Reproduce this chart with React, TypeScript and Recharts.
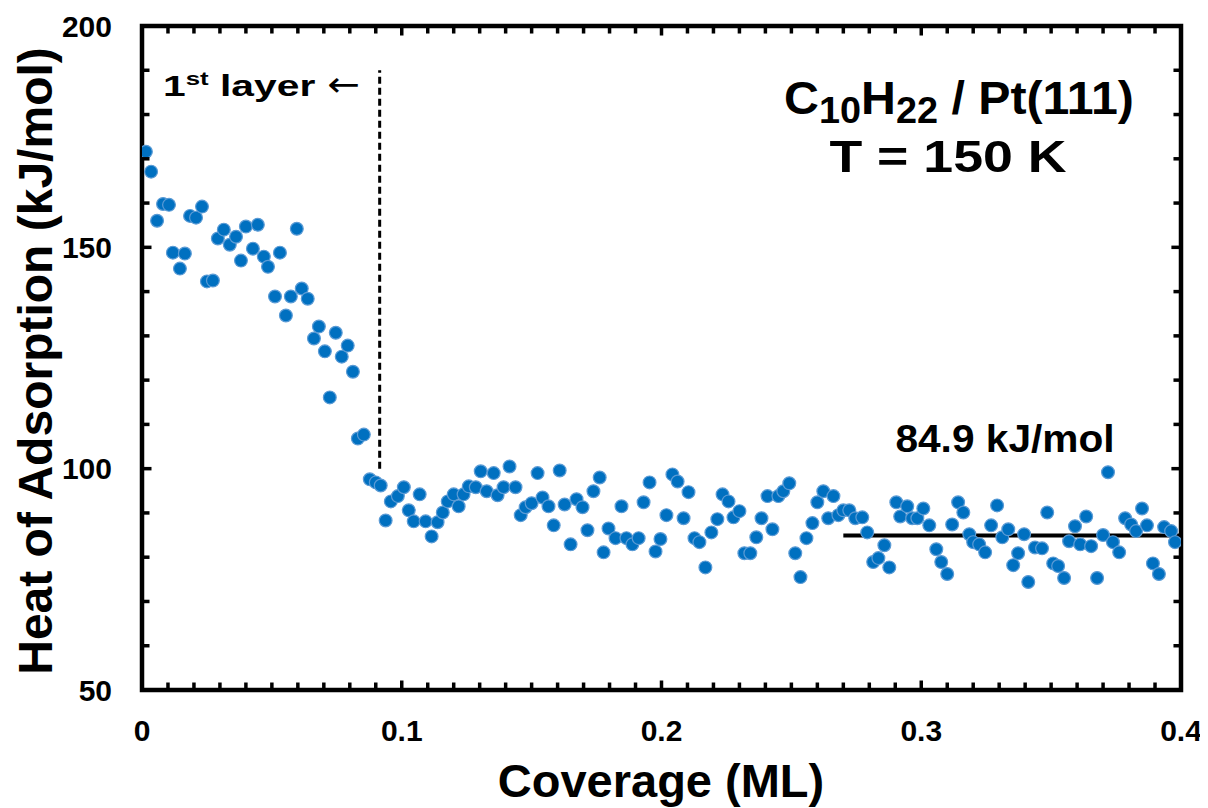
import React from "react";
import { ScatterChart, Scatter, XAxis, YAxis, ReferenceLine, ReferenceArea } from "recharts";

// ---- data ----
const coverage = [
  0.0015, 0.0035, 0.0058, 0.0081, 0.0104, 0.0119, 0.0146, 0.0165, 0.0185, 0.0208,
  0.0231, 0.025, 0.0273, 0.0292, 0.0315, 0.0338, 0.0362, 0.0381, 0.04, 0.0427,
  0.0446, 0.0469, 0.0485, 0.0512, 0.0531, 0.0554, 0.0573, 0.0596, 0.0615, 0.0638,
  0.0662, 0.0681, 0.0704, 0.0723, 0.0746, 0.0769, 0.0792, 0.0812, 0.0831, 0.0854,
  0.0877, 0.09, 0.0919, 0.0938, 0.0958, 0.0985, 0.1008, 0.1027, 0.1046, 0.1069,
  0.1092, 0.1115, 0.1138, 0.1158, 0.1177, 0.12, 0.1219, 0.1238, 0.1258, 0.1285,
  0.1304, 0.1327, 0.1354, 0.1369, 0.1392, 0.1415, 0.1438, 0.1458, 0.1477, 0.15,
  0.1523, 0.1542, 0.1565, 0.1585, 0.1608, 0.1627, 0.165, 0.1673, 0.1696, 0.1715,
  0.1738, 0.1762, 0.1777, 0.1796, 0.1823, 0.1846, 0.1865, 0.1888, 0.1912, 0.1931,
  0.1954, 0.1977, 0.1996, 0.2019, 0.2042, 0.2062, 0.2085, 0.2104, 0.2127, 0.2146,
  0.2169, 0.2192, 0.2215, 0.2235, 0.2258, 0.2277, 0.23, 0.2319, 0.2342, 0.2365,
  0.2385, 0.2408, 0.2427, 0.245, 0.2469, 0.2492, 0.2515, 0.2535, 0.2558, 0.2581,
  0.26, 0.2623, 0.2642, 0.2662, 0.2681, 0.27, 0.2723, 0.2746, 0.2773, 0.2792,
  0.2815, 0.2835, 0.2858, 0.2877, 0.2904, 0.2919, 0.2946, 0.2965, 0.2985, 0.3008,
  0.3031, 0.3058, 0.3077, 0.31, 0.3119, 0.3142, 0.3162, 0.3185, 0.32, 0.3223,
  0.3246, 0.3269, 0.3292, 0.3312, 0.3335, 0.3354, 0.3373, 0.3396, 0.3412, 0.3438,
  0.3465, 0.3485, 0.3508, 0.3527, 0.355, 0.3569, 0.3592, 0.3612, 0.3635, 0.3654,
  0.3677, 0.37, 0.3719, 0.3738, 0.3762, 0.3785, 0.3808, 0.3827, 0.385, 0.3869,
  0.3892, 0.3915, 0.3935, 0.3962, 0.3977,
];

const heat = [
  171.6, 167.1, 156.0, 159.8, 159.6, 148.8, 145.2, 148.6, 157.1, 156.7,
  159.2, 142.3, 142.5, 152.0, 154.0, 150.6, 152.4, 147.0, 154.7, 149.7,
  155.1, 147.9, 145.6, 138.9, 148.8, 134.6, 138.9, 154.2, 140.7, 138.4,
  129.4, 132.1, 126.5, 116.1, 130.7, 125.3, 127.8, 121.9, 106.8, 107.7,
  97.6, 96.9, 96.2, 88.3, 92.6, 93.8, 95.8, 90.6, 88.1, 94.2,
  88.1, 84.7, 87.9, 90.1, 92.6, 94.2, 91.5, 94.2, 96.0, 95.8,
  99.4, 94.9, 99.0, 94.0, 95.8, 100.5, 95.8, 89.5, 91.3, 92.2,
  99.0, 93.5, 91.5, 87.2, 99.6, 91.9, 82.9, 93.1, 91.3, 86.1,
  94.9, 98.0, 81.1, 86.5, 84.3, 91.5, 84.3, 82.9, 84.3, 92.4,
  96.9, 81.3, 84.1, 89.5, 98.7, 97.1, 88.8, 94.7, 84.3, 83.4,
  77.7, 85.6, 88.6, 94.2, 92.6, 89.0, 90.4, 80.9, 80.9, 84.5,
  88.8, 93.8, 86.3, 93.8, 94.9, 96.7, 80.9, 75.5, 84.3, 87.7,
  92.4, 94.9, 88.8, 93.8, 89.5, 90.6, 90.6, 88.8, 89.0, 85.6,
  78.9, 79.8, 82.7, 77.7, 92.4, 89.2, 91.5, 88.8, 88.8, 91.0,
  87.2, 81.8, 78.9, 76.2, 87.4, 92.4, 90.1, 85.2, 83.4, 82.9,
  81.1, 87.2, 91.7, 84.5, 86.3, 78.2, 80.9, 85.2, 74.4, 82.2,
  82.0, 90.1, 78.6, 78.0, 75.3, 83.6, 87.0, 82.9, 89.2, 82.5,
  75.3, 85.0, 99.2, 83.4, 81.1, 88.8, 87.4, 85.9, 91.0, 87.2,
  78.6, 76.2, 86.8, 85.9, 83.4,
];

const plateauValue = 84.9;
const plateauRange = [0.27, 0.4];
const layerBoundary = 0.0915;
const layerBoundaryRange = [100, 190];
const xDomain = [0, 0.4];
const yDomain = [50, 200];

const xTicks = [
  0, 0.01, 0.02, 0.03, 0.04, 0.05, 0.06, 0.07, 0.08, 0.09, 0.1,
  0.11, 0.12, 0.13, 0.14, 0.15, 0.16, 0.17, 0.18, 0.19, 0.2,
  0.21, 0.22, 0.23, 0.24, 0.25, 0.26, 0.27, 0.28, 0.29, 0.3,
  0.31, 0.32, 0.33, 0.34, 0.35, 0.36, 0.37, 0.38, 0.39, 0.4,
];
const xMajorTicks = [0, 0.1, 0.2, 0.3, 0.4];
const xTickLabels = ["0", "0.1", "0.2", "0.3", "0.4"];
const yTicks = [50, 60, 70, 80, 90, 100, 110, 120, 130, 140, 150, 160, 170, 180, 190, 200];
const yMajorTicks = [50, 100, 150, 200];
const yTickLabels = ["50", "100", "150", "200"];

const points = coverage.map((c, i) => ({ x: c, y: heat[i] }));

// ---- styling ----
const FONT = "'Liberation Sans', Arial, sans-serif";
const W = 1200;
const H = 800;
const MINOR = 7.5;
const MAJOR = 9.5;
const TICK_W = 3.5;
// mirrored (top / right) tick lengths expressed in axis units
const TOP_TICK_MINOR = 1.7;
const TOP_TICK_MAJOR = 2.15;
const RIGHT_TICK_MINOR = 0.0029;
const RIGHT_TICK_MAJOR = 0.0037;

const majorIndex = (list: number[], v: number) =>
  list.findIndex((t) => Math.abs(t - v) < 1e-9);

const LeftTick = (props: any) => {
  const { x, y, payload } = props;
  const mi = majorIndex(yMajorTicks, payload.value);
  return (
    <g>
      <line x1={x} y1={y} x2={x + (mi >= 0 ? MAJOR : MINOR)} y2={y} stroke="#000" strokeWidth={TICK_W} />
      {mi >= 0 && (
        <text x={x - 30} y={y} dy={10.5} textAnchor="end" fontFamily={FONT} fontWeight="bold" fontSize={30} fill="#000">
          {yTickLabels[mi]}
        </text>
      )}
    </g>
  );
};

const BottomTick = (props: any) => {
  const { x, y, payload } = props;
  const mi = majorIndex(xMajorTicks, payload.value);
  return (
    <g>
      <line x1={x} y1={y} x2={x} y2={y - (mi >= 0 ? MAJOR : MINOR)} stroke="#000" strokeWidth={TICK_W} />
      {mi >= 0 && (
        <text x={x} y={y + 51} textAnchor="middle" fontFamily={FONT} fontWeight="bold" fontSize={30} fill="#000">
          {xTickLabels[mi]}
        </text>
      )}
    </g>
  );
};

const Dot = (props: any) => {
  const { cx, cy } = props;
  if (cx == null || cy == null) return null;
  return <circle cx={cx} cy={cy} r={6.4} fill="#0070C0" stroke="#5B9BD5" strokeWidth={1.2} />;
};

export default function App() {
  return (
    <div style={{ position: "relative", width: W, height: H }}>
      <ScatterChart width={W} height={H} margin={{ top: 18, right: 27, left: 0, bottom: 0 }}>
        <XAxis
          type="number"
          dataKey="x"
          domain={xDomain}
          allowDataOverflow
          ticks={xTicks}
          interval={0}
          tickSize={0}
          tickMargin={0}
          height={118}
          axisLine={false}
          tickLine={false}
          tick={(p: any) => <BottomTick {...p} />}
        />
        <YAxis
          type="number"
          dataKey="y"
          domain={yDomain}
          allowDataOverflow
          ticks={yTicks}
          interval={0}
          tickSize={0}
          tickMargin={0}
          width={134}
          axisLine={false}
          tickLine={false}
          tick={(p: any) => <LeftTick {...p} />}
        />
        {xTicks.map((v) => {
          const len = majorIndex(xMajorTicks, v) >= 0 ? TOP_TICK_MAJOR : TOP_TICK_MINOR;
          return (
            <ReferenceLine
              key={`top-${v}`}
              segment={[
                { x: v, y: yDomain[1] },
                { x: v, y: yDomain[1] - len },
              ]}
              stroke="#000"
              strokeWidth={TICK_W}
              ifOverflow="visible"
            />
          );
        })}
        {yTicks.map((v) => {
          const len = majorIndex(yMajorTicks, v) >= 0 ? RIGHT_TICK_MAJOR : RIGHT_TICK_MINOR;
          return (
            <ReferenceLine
              key={`right-${v}`}
              segment={[
                { x: xDomain[1], y: v },
                { x: xDomain[1] - len, y: v },
              ]}
              stroke="#000"
              strokeWidth={TICK_W}
              ifOverflow="visible"
            />
          );
        })}
        <ReferenceLine
          segment={[
            { x: layerBoundary, y: layerBoundaryRange[0] },
            { x: layerBoundary, y: layerBoundaryRange[1] },
          ]}
          stroke="#000"
          strokeWidth={3}
          strokeDasharray="7 4"
        />
        <Scatter data={points} isAnimationActive={false} shape={(p: any) => <Dot {...p} />} />
        <ReferenceLine
          segment={[
            { x: plateauRange[0], y: plateauValue },
            { x: plateauRange[1], y: plateauValue },
          ]}
          stroke="#000"
          strokeWidth={4}
        />
        <ReferenceArea
          x1={xDomain[0]}
          x2={xDomain[1]}
          y1={yDomain[0]}
          y2={yDomain[1]}
          fill="none"
          fillOpacity={0}
          stroke="#000"
          strokeWidth={4.5}
          ifOverflow="visible"
        />
      </ScatterChart>
      <svg
        width={W}
        height={H}
        style={{ position: "absolute", left: 0, top: 0, pointerEvents: "none" }}
        fontFamily={FONT}
        fontWeight="bold"
        fill="#000"
      >
        <g transform="translate(155,88) scale(1.36,1)">
          <text x={0} y={0} fontSize={30}>
            1<tspan fontSize={19} dy={-11}>st</tspan>
            <tspan dy={11}> layer</tspan>
          </text>
        </g>
        <g transform="translate(319,88) scale(1.15,1)">
          <text x={0} y={0} fontSize={34} fontFamily="'DejaVu Sans', sans-serif" fontWeight="normal">
            ←
          </text>
        </g>
        <g transform="translate(951,106) scale(1.05,1)">
          <text x={0} y={0} fontSize={46} textAnchor="middle">
            C<tspan fontSize={36} dy={9}>10</tspan>
            <tspan dy={-9}>H</tspan>
            <tspan fontSize={36} dy={9}>22</tspan>
            <tspan dy={-9}> / Pt(111)</tspan>
          </text>
        </g>
        <g transform="translate(940,164) scale(1.22,1)">
          <text x={0} y={0} fontSize={44} textAnchor="middle">
            T = 150 K
          </text>
        </g>
        <g transform="translate(997,444) scale(1.07,1)">
          <text x={0} y={0} fontSize={38} textAnchor="middle">
            84.9 kJ/mol
          </text>
        </g>
        <text x={653} y={789} fontSize={47} textAnchor="middle">
          Coverage (ML)
        </text>
        <text x={0} y={0} fontSize={48} textAnchor="middle" transform="translate(44,353) rotate(-90)">
          Heat of Adsorption (kJ/mol)
        </text>
      </svg>
    </div>
  );
}
